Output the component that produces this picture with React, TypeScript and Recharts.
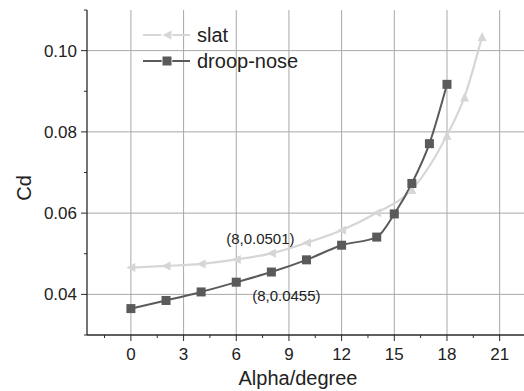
import React from 'react';
import { LineChart, Line, XAxis, YAxis, CartesianGrid, ReferenceDot } from 'recharts';

const alphaSlat = [0, 2, 4, 6, 8, 10, 12, 14, 16, 18, 19, 20];
const cdSlat = [0.0466, 0.047, 0.0475, 0.0486, 0.0501, 0.0527, 0.0558, 0.0601, 0.0658, 0.0792, 0.0886, 0.1035];
const alphaDroop = [0, 2, 4, 6, 8, 10, 12, 14, 15, 16, 17, 18];
const cdDroop = [0.0365, 0.0385, 0.0406, 0.043, 0.0455, 0.0485, 0.0521, 0.0541, 0.0598, 0.0673, 0.0771, 0.0917];

const xMajor = [0, 3, 6, 9, 12, 15, 18, 21];
const xMinor = [-1.5, 1.5, 4.5, 7.5, 10.5, 13.5, 16.5, 19.5, 22.5];
const yMajor = [0.04, 0.06, 0.08, 0.1];
const yMinor = [0.03, 0.05, 0.07, 0.09, 0.11];
const yLabels = ['0.04', '0.06', '0.08', '0.10'];

const seriesNames = ['slat', 'droop-nose'];
const annotSlat = { x: 8, y: 0.0501, text: '(8,0.0501)' };
const annotDroop = { x: 8, y: 0.0455, text: '(8,0.0455)' };

const slatData = alphaSlat.map((a, i) => ({ alpha: a, cd: cdSlat[i] }));
const droopData = alphaDroop.map((a, i) => ({ alpha: a, cd: cdDroop[i] }));

const FONT = '"Liberation Sans", Arial, sans-serif';
const SLAT = '#d6d6d6';
const DROOP = '#5a5a5a';
const AXIS = '#2a2a2a';

const isIn = (arr: number[], v: number) => arr.some((a) => Math.abs(a - v) < 1e-9);

const XTick = (props: any) => {
  const { x, y, payload } = props;
  const major = isIn(xMajor, payload.value);
  return (
    <g>
      <line x1={x} x2={x} y1={y} y2={y + (major ? 6 : 3)} stroke={AXIS} strokeWidth={1} />
      {major && (
        <text x={x} y={y + 25} textAnchor="middle" fontSize={17} fill="#222" fontFamily={FONT}>
          {payload.value}
        </text>
      )}
    </g>
  );
};

const YTick = (props: any) => {
  const { x, y, payload } = props;
  const idx = yMajor.findIndex((v) => Math.abs(v - payload.value) < 1e-9);
  const major = idx >= 0;
  return (
    <g>
      <line x1={x} x2={x - (major ? 6 : 3)} y1={y} y2={y} stroke={AXIS} strokeWidth={1} />
      {major && (
        <text x={x - 10} y={y + 6} textAnchor="end" fontSize={17} fill="#222" fontFamily={FONT}>
          {yLabels[idx]}
        </text>
      )}
    </g>
  );
};

const triPath = (cx: number, cy: number, dir: 'left' | 'up', s = 4.5) =>
  dir === 'left'
    ? `M${cx - s},${cy} L${cx + s},${cy - s} L${cx + s},${cy + s} Z`
    : `M${cx},${cy - s} L${cx + s},${cy + s} L${cx - s},${cy + s} Z`;

const SlatDot = (props: any) => {
  const { cx, cy, payload } = props;
  if (cx == null || cy == null) return null;
  const dir = payload.alpha >= 16 ? 'up' : 'left';
  return <path d={triPath(cx, cy, dir)} fill={SLAT} stroke="none" />;
};

const DroopDot = (props: any) => {
  const { cx, cy } = props;
  if (cx == null || cy == null) return null;
  return <rect x={cx - 4.5} y={cy - 4.5} width={9} height={9} fill={DROOP} />;
};

const annotLabel = (text: string, dx: number, dy: number) => (p: any) => {
  const vb = p.viewBox || {};
  const cx = (vb.x || 0) + (vb.width || 0) / 2;
  const cy = (vb.y || 0) + (vb.height || 0) / 2;
  return (
    <text x={cx + dx} y={cy + dy} textAnchor="middle" fontSize={15} fill="#222" fontFamily={FONT}>
      {text}
    </text>
  );
};

export default function App() {
  return (
    <div style={{ position: 'absolute', left: 0, top: 0, width: 524, height: 391, overflow: 'hidden', background: '#fff' }}>
      <LineChart width={526} height={391} margin={{ top: 10, right: 0, bottom: 0, left: 0 }}>
        <CartesianGrid
          horizontalValues={yMajor}
          verticalValues={xMajor}
          stroke="#a8a8a8"
          strokeWidth={1}
        />
        <XAxis
          dataKey="alpha"
          type="number"
          domain={[-2.5, 22.5]}
          ticks={[...xMajor, ...xMinor].sort((a, b) => a - b)}
          allowDataOverflow
          height={56}
          tickSize={0}
          tickMargin={0}
          tickLine={false}
          axisLine={{ stroke: AXIS, strokeWidth: 1.3 }}
          tick={<XTick />}
          interval={0}
          label={{
            content: () => (
              <text x={298} y={385} textAnchor="middle" fontSize={20} fill="#222" fontFamily={FONT}>
                Alpha/degree
              </text>
            ),
          }}
        />
        <YAxis
          type="number"
          domain={[0.03, 0.11]}
          ticks={[...yMajor, ...yMinor].sort((a, b) => a - b)}
          allowDataOverflow
          width={87}
          tickSize={0}
          tickMargin={0}
          tickLine={false}
          axisLine={{ stroke: AXIS, strokeWidth: 1.3 }}
          tick={<YTick />}
          interval={0}
          label={{
            content: () => (
              <text
                x={31}
                y={188}
                transform="rotate(-90 31 188)"
                textAnchor="middle"
                fontSize={20}
                fill="#222"
                fontFamily={FONT}
              >
                Cd
              </text>
            ),
          }}
        />
        <Line
          data={slatData}
          dataKey="cd"
          type="monotone"
          stroke={SLAT}
          strokeWidth={2.2}
          dot={<SlatDot />}
          activeDot={false}
          isAnimationActive={false}
          name={seriesNames[0]}
        />
        <Line
          data={droopData}
          dataKey="cd"
          type="monotone"
          stroke={DROOP}
          strokeWidth={2}
          dot={<DroopDot />}
          activeDot={false}
          isAnimationActive={false}
          name={seriesNames[1]}
        />
        <ReferenceDot
          x={annotSlat.x}
          y={annotSlat.y}
          r={0}
          fill="none"
          stroke="none"
          label={{ content: annotLabel(annotSlat.text, -11, -9) }}
        />
        <ReferenceDot
          x={annotDroop.x}
          y={annotDroop.y}
          r={0}
          fill="none"
          stroke="none"
          label={{ content: annotLabel(annotDroop.text, 15, 29) }}
        />
      </LineChart>
      <svg
        width={524}
        height={391}
        style={{ position: 'absolute', left: 0, top: 0, pointerEvents: 'none' }}
      >
        <line x1={143} x2={190} y1={35} y2={35} stroke={SLAT} strokeWidth={2.2} />
        <path d={triPath(167, 35, 'left')} fill={SLAT} stroke="#fff" strokeWidth={2} paintOrder="stroke" />
        <text x={197} y={42} fontSize={20} fill="#222" fontFamily={FONT}>
          {seriesNames[0]}
        </text>
        <line x1={143} x2={190} y1={61} y2={61} stroke={DROOP} strokeWidth={2} />
        <rect x={162.5} y={56.5} width={9} height={9} fill={DROOP} stroke="#fff" strokeWidth={1.5} paintOrder="stroke" />
        <text x={197} y={68} fontSize={20} fill="#222" fontFamily={FONT}>
          {seriesNames[1]}
        </text>
      </svg>
    </div>
  );
}
